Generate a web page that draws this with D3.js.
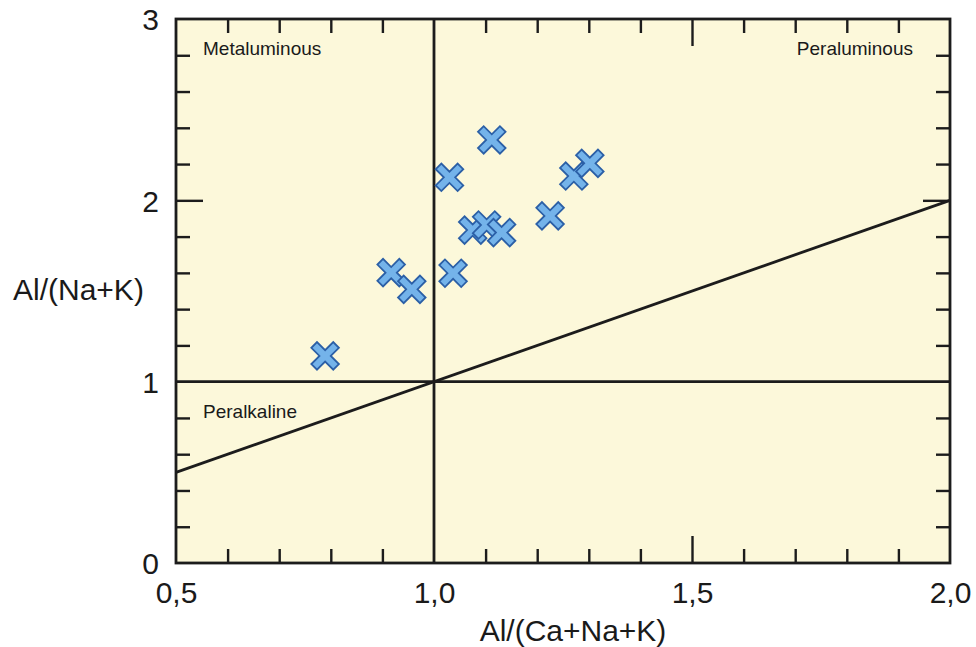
<!DOCTYPE html>
<html>
<head>
<meta charset="utf-8">
<script src="https://cdn.jsdelivr.net/npm/d3@7"></script>
<style>
  html, body { margin: 0; padding: 0; background: #ffffff; }
  svg { display: block; }
  text { font-family: "Liberation Sans", Arial, sans-serif; fill: #1a1a1a; }
</style>
</head>
<body>
<svg id="chart" width="976" height="647"></svg>
<script>
// A/CNK vs A/NK (Shand index) samples
const acnk = [0.789, 0.917, 0.957, 1.037, 1.030, 1.112, 1.075, 1.102, 1.131, 1.225, 1.271, 1.302];
const ank  = [1.142, 1.601, 1.509, 1.598, 2.127, 2.333, 1.836, 1.864, 1.822, 1.914, 2.134, 2.204];

const xMajorTicks = [0.5, 1.0, 1.5, 2.0];
const xMinorTicks = [0.6, 0.7, 0.8, 0.9, 1.1, 1.2, 1.3, 1.4, 1.6, 1.7, 1.8, 1.9];
const yMajorTicks = [0, 1, 2, 3];
const yMinorTicks = [0.2, 0.4, 0.6, 0.8, 1.2, 1.4, 1.6, 1.8, 2.2, 2.4, 2.6, 2.8];

const fieldLabels = ["Metaluminous", "Peraluminous", "Peralkaline"];
const xTitle = "Al/(Ca+Na+K)";
const yTitle = "Al/(Na+K)";

const svg = d3.select("#chart");
const plotL = 176, plotR = 950, plotT = 19, plotB = 563;

const x = d3.scaleLinear().domain([0.5, 2.0]).range([plotL, plotR]);
const y = d3.scaleLinear().domain([0, 3]).range([plotB, plotT]);

const ink = "#1c1c1c";
const comma = d => d3.format(".1f")(d).replace(".", ",");

// plot background
svg.append("rect")
  .attr("x", plotL).attr("y", plotT)
  .attr("width", plotR - plotL).attr("height", plotB - plotT)
  .attr("fill", "#fcf8da");

// inward ticks on all four sides
function tickAxis(axisFn, scale, values, size, transform) {
  const g = svg.append("g")
    .attr("transform", transform)
    .call(axisFn(scale).tickValues(values).tickSize(size).tickFormat(""));
  g.select(".domain").remove();
  g.selectAll(".tick line").attr("stroke", ink).attr("stroke-width", 2.4);
}
tickAxis(d3.axisBottom, x, xMinorTicks, -14, `translate(0,${plotB})`);
tickAxis(d3.axisTop, x, xMinorTicks, -14, `translate(0,${plotT})`);
tickAxis(d3.axisBottom, x, [1.5], -27, `translate(0,${plotB})`);
tickAxis(d3.axisTop, x, [1.5], -27, `translate(0,${plotT})`);
tickAxis(d3.axisLeft, y, yMinorTicks, -14, `translate(${plotL},0)`);
tickAxis(d3.axisRight, y, yMinorTicks, -14, `translate(${plotR},0)`);
tickAxis(d3.axisLeft, y, [2], -27, `translate(${plotL},0)`);
tickAxis(d3.axisRight, y, [2], -27, `translate(${plotR},0)`);

// field boundaries: A/CNK = 1, A/NK = 1 and A/NK = A/CNK
const bounds = svg.append("g").attr("stroke", ink).attr("stroke-width", 2.8).attr("fill", "none");
bounds.append("line").attr("x1", x(1)).attr("x2", x(1)).attr("y1", y(0)).attr("y2", y(3));
bounds.append("line").attr("x1", x(0.5)).attr("x2", x(2)).attr("y1", y(1)).attr("y2", y(1));
bounds.append("line").attr("x1", x(0.5)).attr("x2", x(2)).attr("y1", y(0.5)).attr("y2", y(2));

// frame
svg.append("rect")
  .attr("x", plotL).attr("y", plotT)
  .attr("width", plotR - plotL).attr("height", plotB - plotT)
  .attr("fill", "none").attr("stroke", ink).attr("stroke-width", 2.8);

// tick labels
const xl = svg.append("g")
  .attr("transform", `translate(0,${plotB})`)
  .call(d3.axisBottom(x).tickValues(xMajorTicks).tickSize(0).tickPadding(0).tickFormat(comma));
xl.select(".domain").remove();
xl.selectAll(".tick text")
  .attr("y", 40).attr("dy", null)
  .style("font-size", "30px").style("font-family", "'Liberation Sans', Arial, sans-serif").attr("fill", ink);

const yl = svg.append("g")
  .attr("transform", `translate(${plotL},0)`)
  .call(d3.axisLeft(y).tickValues(yMajorTicks).tickSize(0).tickPadding(0).tickFormat(d3.format("d")));
yl.select(".domain").remove();
yl.selectAll(".tick text")
  .attr("x", -17).attr("dy", "0.36em")
  .style("font-size", "30px").style("font-family", "'Liberation Sans', Arial, sans-serif").attr("fill", ink);

// axis titles
svg.append("text")
  .attr("x", 573).attr("y", 641)
  .attr("text-anchor", "middle")
  .style("font-size", "30px")
  .text(xTitle);
svg.append("text")
  .attr("x", 13).attr("y", 300)
  .attr("text-anchor", "start")
  .style("font-size", "30px")
  .text(yTitle);

// field names
const fieldPos = [
  { x: 203, y: 55, anchor: "start" },
  { x: 913, y: 55, anchor: "end" },
  { x: 203, y: 418, anchor: "start" }
];
svg.selectAll("text.field")
  .data(fieldLabels)
  .join("text")
  .attr("class", "field")
  .attr("x", (d, i) => fieldPos[i].x)
  .attr("y", (d, i) => fieldPos[i].y)
  .attr("text-anchor", (d, i) => fieldPos[i].anchor)
  .style("font-size", "19px")
  .text(d => d);

// diagonal cross marker
const crossSymbol = {
  draw(ctx) {
    const a = 15.5, w = 4.0;
    const pts = [[w, -w], [w, -a], [-w, -a], [-w, -w], [-a, -w], [-a, w], [-w, w], [-w, a], [w, a], [w, w], [a, w], [a, -w]];
    const c = Math.SQRT1_2;
    pts.forEach(([px, py], i) => {
      const rx = (px - py) * c, ry = (px + py) * c;
      if (i === 0) ctx.moveTo(rx, ry); else ctx.lineTo(rx, ry);
    });
    ctx.closePath();
  }
};

svg.append("g")
  .selectAll("path")
  .data(acnk.map((v, i) => [v, ank[i]]))
  .join("path")
  .attr("transform", d => `translate(${x(d[0])},${y(d[1])})`)
  .attr("d", d3.symbol().type(crossSymbol))
  .attr("fill", "#74b3ea")
  .attr("stroke", "#2b5fa6")
  .attr("stroke-width", 1.8)
  .attr("stroke-linejoin", "miter");
</script>
</body>
</html>
